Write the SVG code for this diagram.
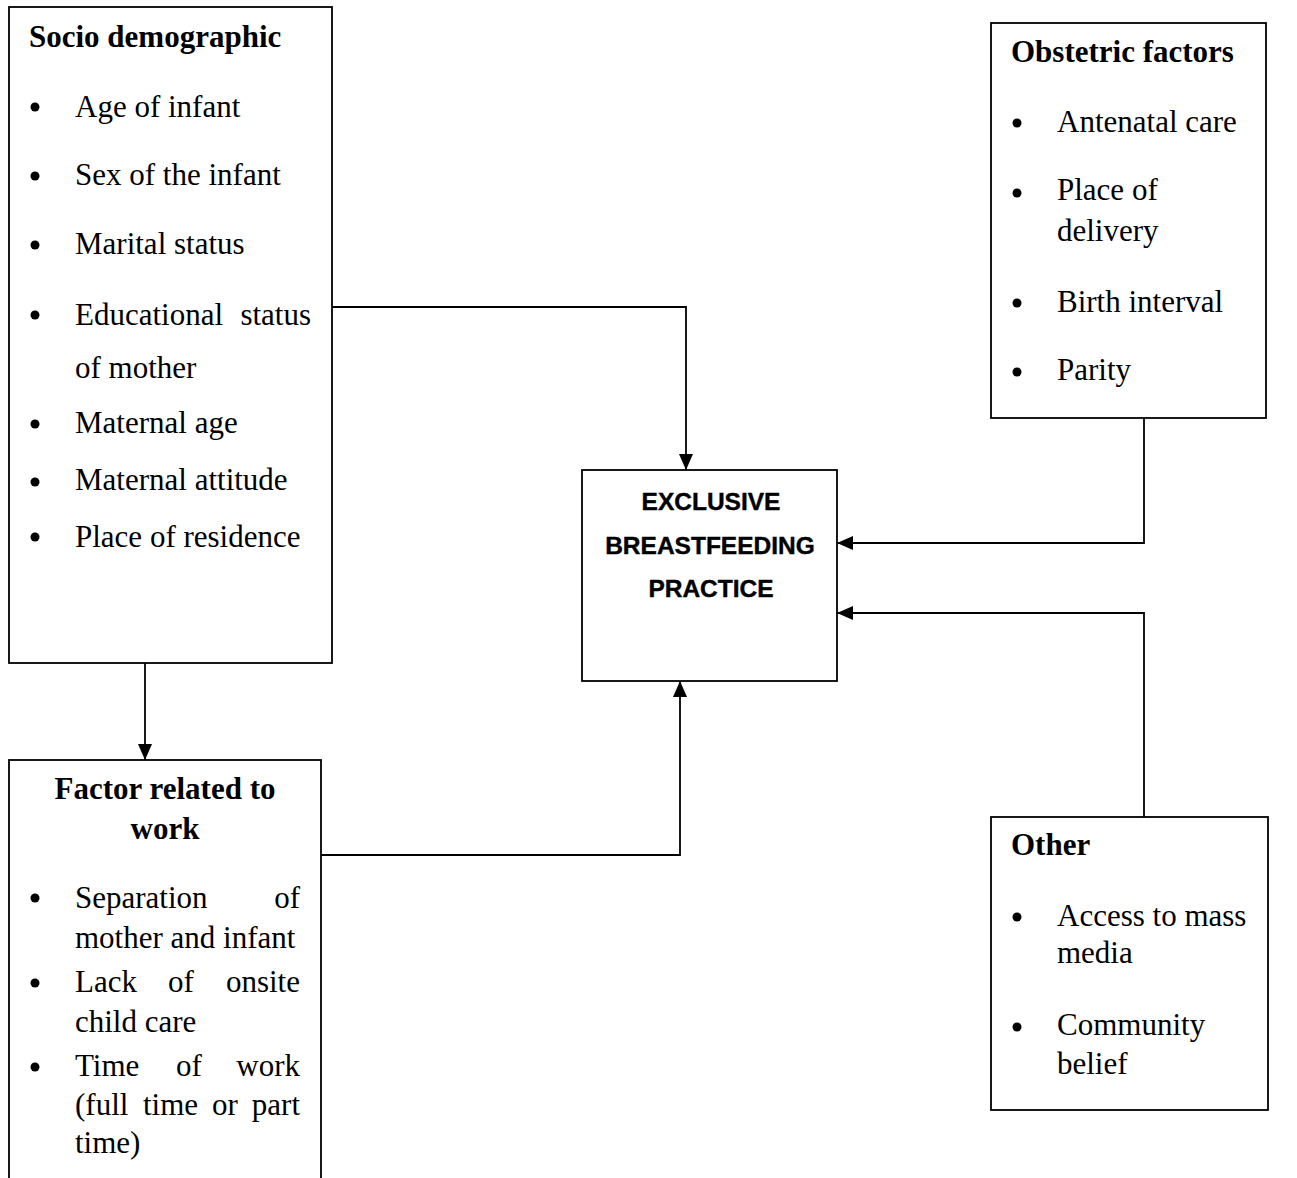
<svg xmlns="http://www.w3.org/2000/svg" width="1297" height="1178" viewBox="0 0 1297 1178">
<style>
.box{fill:#fff;stroke:#000;stroke-width:1.8}
.t{font-family:"Liberation Serif","Times New Roman",serif;font-size:31px;fill:#000}
.b{font-weight:bold}
.c{font-family:"Liberation Sans",Arial,sans-serif;font-size:24.5px;font-weight:bold;fill:#000;stroke:#000;stroke-width:0.4;text-anchor:middle}
.ln{fill:none;stroke:#000;stroke-width:1.8}
.dot{fill:#000}
</style>
<defs>
<marker id="ah" viewBox="0 0 16 14" refX="16" refY="7" markerWidth="16" markerHeight="14" markerUnits="userSpaceOnUse" orient="auto">
<path d="M0,0 L16,7 L0,14 Z" fill="#000"/>
</marker>
</defs>
<rect width="1297" height="1178" fill="#fff"/>
<g id="connectors">
<path class="ln" d="M332,307 H686 V470" marker-end="url(#ah)"/>
<path class="ln" d="M145,663 V760" marker-end="url(#ah)"/>
<path class="ln" d="M321,855 H680 V681" marker-end="url(#ah)"/>
<path class="ln" d="M1144,418 V543 H837" marker-end="url(#ah)"/>
<path class="ln" d="M1144,817 V613 H837" marker-end="url(#ah)"/>
</g>
<g id="socio">
<rect class="box" x="9" y="7" width="323" height="656"/>
<text class="t b" x="29" y="47">Socio demographic</text>
<circle class="dot" cx="35" cy="107" r="4.5"/><text class="t" x="75" y="117">Age of infant</text>
<circle class="dot" cx="35" cy="176" r="4.5"/><text class="t" x="75" y="185">Sex of the infant</text>
<circle class="dot" cx="35" cy="245" r="4.5"/><text class="t" x="75" y="254">Marital status</text>
<circle class="dot" cx="35" cy="315" r="4.5"/><text class="t" x="75" y="325">Educational</text><text class="t" x="311" y="325" text-anchor="end">status</text>
<text class="t" x="75" y="378">of mother</text>
<circle class="dot" cx="35" cy="424" r="4.5"/><text class="t" x="75" y="433">Maternal age</text>
<circle class="dot" cx="35" cy="482" r="4.5"/><text class="t" x="75" y="490">Maternal attitude</text>
<circle class="dot" cx="35" cy="537" r="4.5"/><text class="t" x="75" y="547">Place of residence</text>
</g>
<g id="ebf">
<rect class="box" x="582" y="470" width="255" height="211"/>
<text class="c" x="711" y="510">EXCLUSIVE</text>
<text class="c" x="710" y="554">BREASTFEEDING</text>
<text class="c" x="711" y="597">PRACTICE</text>
</g>
<g id="work">
<rect class="box" x="9" y="760" width="312" height="440"/>
<text class="t b" x="165" y="799" text-anchor="middle">Factor related to</text>
<text class="t b" x="165" y="839" text-anchor="middle">work</text>
<circle class="dot" cx="35" cy="898" r="4.5"/><text class="t" x="75" y="908">Separation</text><text class="t" x="300" y="908" text-anchor="end">of</text>
<text class="t" x="75" y="948">mother and infant</text>
<circle class="dot" cx="35" cy="983" r="4.5"/><text class="t" x="75" y="992">Lack</text><text class="t" x="168" y="992">of</text><text class="t" x="300" y="992" text-anchor="end">onsite</text>
<text class="t" x="75" y="1032">child care</text>
<circle class="dot" cx="35" cy="1067" r="4.5"/><text class="t" x="75" y="1076">Time</text><text class="t" x="176" y="1076">of</text><text class="t" x="300" y="1076" text-anchor="end">work</text>
<text class="t" x="75" y="1115">(full</text><text class="t" x="143" y="1115">time</text><text class="t" x="212" y="1115">or</text><text class="t" x="300" y="1115" text-anchor="end">part</text>
<text class="t" x="75" y="1153">time)</text>
</g>
<g id="obstetric">
<rect class="box" x="991" y="23" width="275" height="395"/>
<text class="t b" x="1011" y="62">Obstetric factors</text>
<circle class="dot" cx="1017" cy="123" r="4.5"/><text class="t" x="1057" y="132">Antenatal care</text>
<circle class="dot" cx="1017" cy="193" r="4.5"/><text class="t" x="1057" y="200">Place of</text>
<text class="t" x="1057" y="241">delivery</text>
<circle class="dot" cx="1017" cy="303" r="4.5"/><text class="t" x="1057" y="312">Birth interval</text>
<circle class="dot" cx="1017" cy="372" r="4.5"/><text class="t" x="1057" y="380">Parity</text>
</g>
<g id="other">
<rect class="box" x="991" y="817" width="277" height="293"/>
<text class="t b" x="1011" y="855">Other</text>
<circle class="dot" cx="1017" cy="917" r="4.5"/><text class="t" x="1057" y="926">Access to mass</text>
<text class="t" x="1057" y="963">media</text>
<circle class="dot" cx="1017" cy="1027" r="4.5"/><text class="t" x="1057" y="1035">Community</text>
<text class="t" x="1057" y="1074">belief</text>
</g>
</svg>
